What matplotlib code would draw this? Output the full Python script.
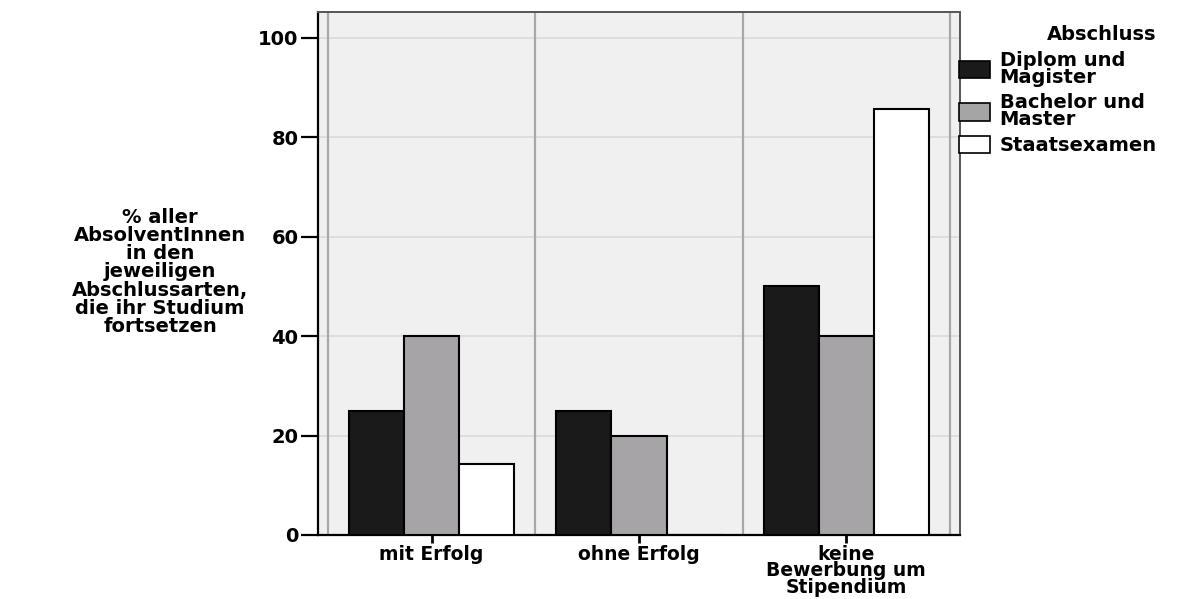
import matplotlib
matplotlib.use('Agg')
import matplotlib.pyplot as plt
import numpy as np
from matplotlib.patches import Patch

# data
categories = ['mit Erfolg', 'ohne Erfolg', 'keine\nBewerbung um\nStipendium']
series_names = ['Diplom und\nMagister', 'Bachelor und\nMaster', 'Staatsexamen']
diplom = [25.0, 25.0, 50.0]
bachelor = [40.0, 20.0, 40.0]
staatsexamen = [14.3, 0.0, 85.7]
yticks = [0, 20, 40, 60, 80, 100]

colors = ['#1a1a1a', '#a6a4a6', '#ffffff']

plt.rcParams['font.family'] = ['DejaVu Sans']
plt.rcParams['font.weight'] = 'bold'
FS = 14

fig = plt.figure(figsize=(11.95, 5.99), dpi=100)
ax = fig.add_axes([318 / 1195, 1 - 535 / 599, 642 / 1195, 523 / 599])
ax.set_facecolor('#f0f0f0')

x = np.arange(len(categories))
w = 0.266
for i, (vals, col) in enumerate(zip([diplom, bachelor, staatsexamen], colors)):
    ax.bar(x + (i - 1) * w, vals, width=w, color=col, edgecolor='black',
           linewidth=1.5, zorder=3)

ax.set_xlim(-0.548, 2.548)
ax.set_ylim(0, 105.2)

# grid: light horizontal, gray category separators
for yv in yticks[1:]:
    ax.axhline(yv, color='#dcdcdc', lw=1.3, zorder=1)
for xv in np.arange(-0.5, len(categories), 1.0):
    ax.axvline(xv, color='#a8a8a8', lw=1.6, zorder=1)

ax.set_yticks(yticks)
ax.set_yticklabels([str(t) for t in yticks], fontsize=FS, fontweight='bold')
ax.set_xticks(x)
ax.set_xticklabels(categories, fontsize=13.5, fontweight='bold', linespacing=0.85)
ax.tick_params(axis='y', length=12, width=1.6, pad=2)
ax.tick_params(axis='x', length=6, width=2, pad=1)

for s in ['left', 'bottom']:
    ax.spines[s].set_color('black')
    ax.spines[s].set_linewidth(1.6)
for s in ['top', 'right']:
    ax.spines[s].set_color('#555555')
    ax.spines[s].set_linewidth(1.4)

ax.set_ylabel('% aller\nAbsolventInnen\nin den\njeweiligen\nAbschlussarten,\ndie ihr Studium\nfortsetzen',
              rotation=0, fontsize=FS, fontweight='bold', ha='center', va='center',
              linespacing=0.95)
ax.yaxis.set_label_coords(-0.246, 0.503)

handles = [Patch(facecolor=c, edgecolor='black', linewidth=1.2) for c in colors]
leg = ax.legend(handles, series_names, loc='upper left', bbox_to_anchor=(0.998, 0.975),
                frameon=False, fontsize=FS, title='Abschluss',
                title_fontproperties={'weight': 'bold', 'size': FS},
                handlelength=1.6, handleheight=1.0, handletextpad=0.5,
                labelspacing=0.35, borderaxespad=0, borderpad=0,
                alignment='right')
for t in leg.get_texts():
    t.set_fontweight('bold')
    t.set_linespacing(0.85)

fig.savefig('out.png', dpi=100)
